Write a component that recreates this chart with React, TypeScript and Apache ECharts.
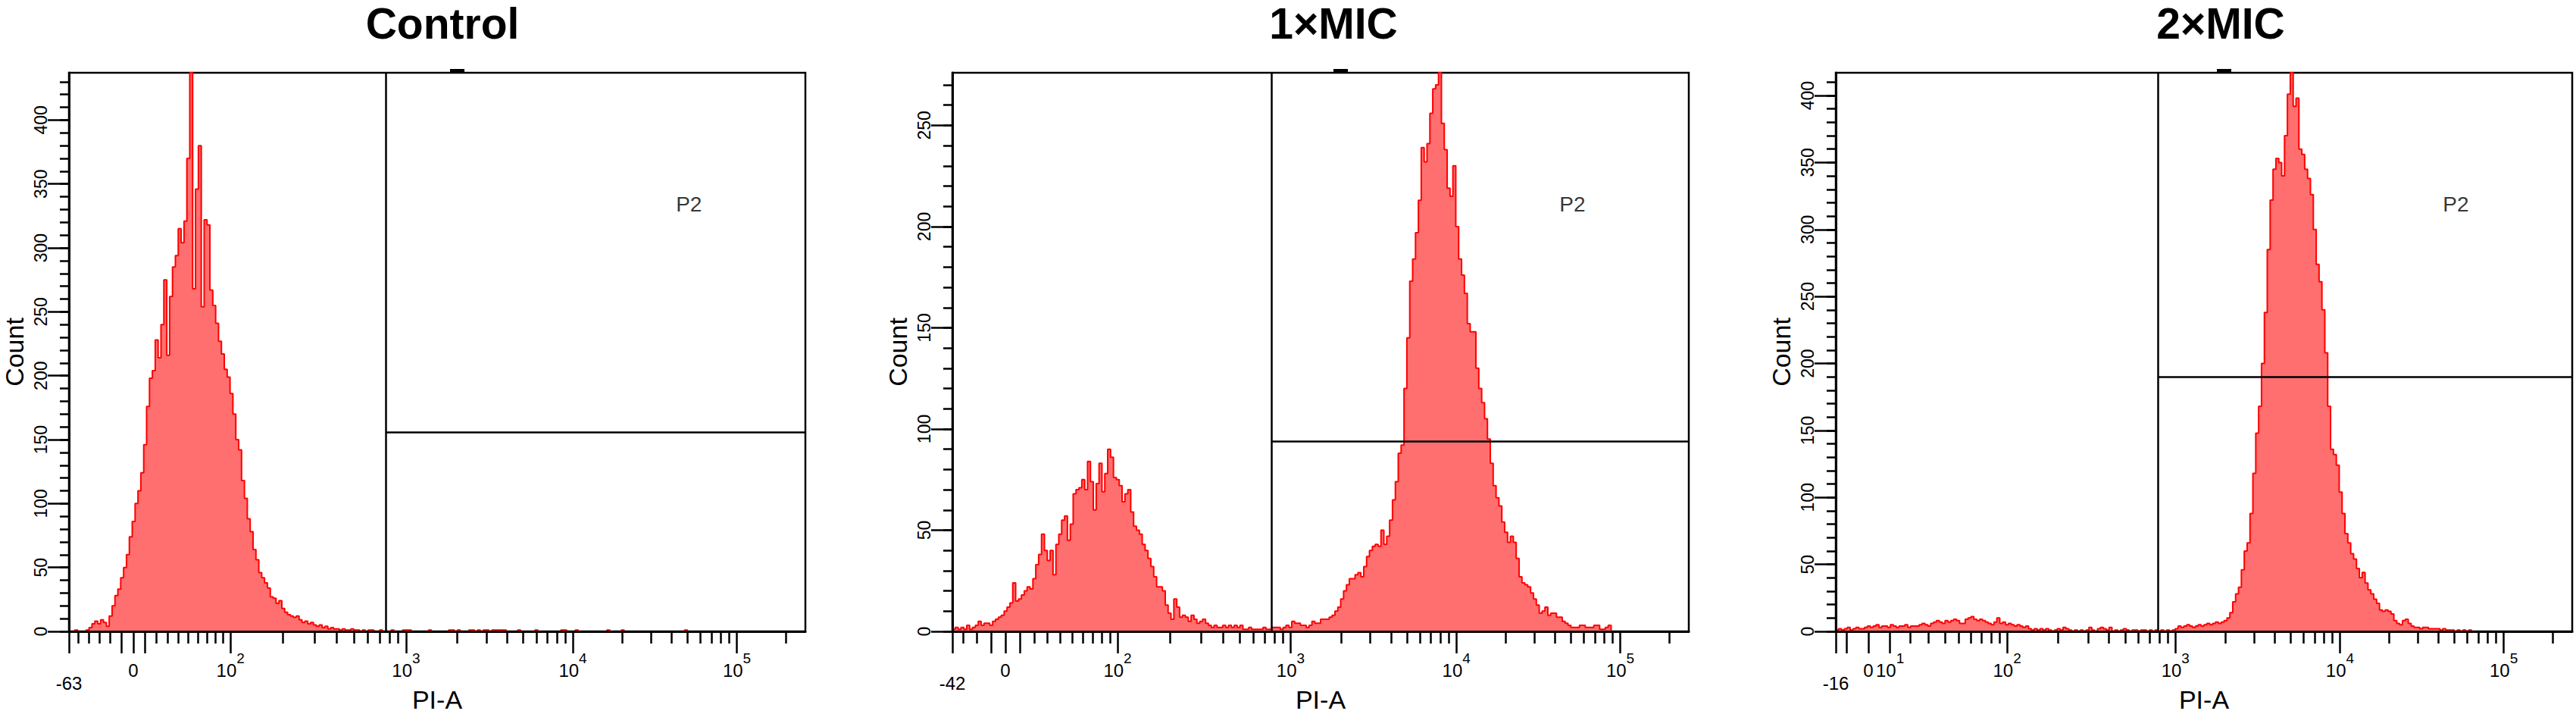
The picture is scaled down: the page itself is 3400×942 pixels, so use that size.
import React, { useEffect, useRef } from "react";
import * as echarts from "echarts";

const FONT = "'Liberation Sans', Arial, Helvetica, sans-serif";

// ---- instrument / axis scale (biexponential "logicle" display) ----
const T_MAX = 262144;
const M_DECADES = 4.5;
const CHANNELS = 256;

// ---- panels ----
const panelTitles = ["Control", "1×MIC", "2×MIC"];
const linearWidthDecades = [0.3935, 0.324, 0.199];
const edgeLabels = ["-63", "-42", "-16"];
const yMaxCounts = [437, 276, 417];
const yMajorTicks = [
  [0, 50, 100, 150, 200, 250, 300, 350, 400],
  [0, 50, 100, 150, 200, 250],
  [0, 50, 100, 150, 200, 250, 300, 350, 400],
];
const xLabelValues = [
  [0, 100, 1000, 10000, 100000],
  [0, 100, 1000, 10000, 100000],
  [0, 10, 100, 1000, 10000, 100000],
];
const xLongTickValues = [-10, 0, 10, 100, 1000, 10000, 100000];
const xShortTickValues = [
  -90, -80, -70, -60, -50, -40, -30, -20,
  20, 30, 40, 50, 60, 70, 80, 90,
  200, 300, 400, 500, 600, 700, 800, 900,
  2000, 3000, 4000, 5000, 6000, 7000, 8000, 9000,
  20000, 30000, 40000, 50000, 60000, 70000, 80000, 90000,
  200000,
];

// P2 gate (interval gate) per panel
const gateStartValue = [760, 770, 782];
const gateLineCount = [156, 94, 190];
const gateLabel = "P2";
const gateLabelValue = 51000;
const gateLabelCount = [334, 211, 319];

// ---- histogram counts per channel (256 channels) ----
const controlCounts = [
  0, 0, 1, 0, 0, 0, 1, 3, 6, 8,
  6, 9, 7, 4, 12, 20, 28, 33, 42, 50,
  60, 74, 86, 100, 110, 124, 146, 176, 198, 204,
  228, 214, 240, 275, 216, 262, 285, 294, 315, 304,
  321, 370, 437, 268, 346, 380, 254, 322, 318, 267,
  255, 241, 227, 217, 205, 199, 186, 170, 150, 142,
  118, 104, 88, 78, 64, 56, 46, 42, 38, 34,
  27, 26, 22, 24, 18, 15, 13, 12, 11, 12,
  9, 7, 8, 6, 7, 5, 4, 5, 3, 4,
  2, 3, 2, 2, 1, 2, 1, 1, 2, 1,
  1, 0, 1, 0, 1, 1, 0, 0, 1, 0,
  0, 0, 1, 0, 0, 0, 1, 1, 1, 0,
  0, 0, 0, 0, 0, 1, 0, 0, 0, 0,
  0, 0, 1, 1, 0, 1, 0, 0, 0, 1,
  1, 0, 1, 0, 1, 1, 0, 1, 1, 1,
  1, 1, 0, 0, 0, 0, 1, 0, 0, 0,
  0, 0, 1, 0, 0, 0, 0, 0, 0, 0,
  0, 1, 1, 0, 0, 0, 1, 0, 0, 0,
  0, 0, 0, 0, 0, 0, 0, 1, 0, 0,
  0, 0, 1, 0, 0, 0, 0, 0, 0, 0,
  0, 0, 0, 0, 0, 0, 0, 0, 0, 0,
  0, 0, 0, 0, 1, 0, 0, 0, 0, 0,
  0, 0, 0, 0, 0, 0, 0, 0, 0, 0,
  0, 0, 0, 0, 0, 0, 0, 0, 0, 0,
  0, 0, 0, 0, 0, 0, 0, 0, 0, 0,
  0, 0, 0, 0, 0, 0,
];

const mic1Counts = [
  1, 2, 1, 2, 1, 3, 1, 2, 3, 5,
  3, 4, 4, 3, 5, 6, 7, 8, 10, 12,
  14, 24, 15, 16, 18, 20, 22, 21, 26, 33,
  38, 48, 40, 35, 40, 28, 43, 48, 55, 57,
  45, 53, 68, 70, 71, 75, 70, 84, 74, 60,
  73, 83, 69, 78, 90, 86, 76, 75, 72, 64,
  68, 70, 59, 52, 50, 48, 43, 40, 36, 32,
  27, 22, 22, 20, 13, 9, 6, 16, 12, 7,
  8, 7, 5, 8, 6, 4, 5, 6, 4, 3,
  2, 3, 2, 2, 3, 2, 3, 2, 3, 2,
  3, 1, 1, 2, 1, 1, 1, 1, 2, 1,
  1, 2, 2, 2, 1, 2, 3, 2, 5, 4,
  4, 3, 3, 2, 3, 5, 4, 4, 6, 6,
  6, 7, 8, 10, 12, 16, 20, 23, 26, 26,
  28, 29, 27, 32, 37, 40, 42, 43, 42, 50,
  43, 47, 55, 65, 74, 88, 92, 120, 145, 173,
  184, 197, 213, 239, 232, 241, 256, 268, 270, 276,
  251, 238, 219, 215, 230, 200, 184, 176, 167, 152,
  148, 148, 130, 120, 113, 105, 95, 83, 72, 66,
  62, 54, 49, 44, 47, 44, 36, 27, 24, 23,
  22, 19, 16, 13, 9, 10, 12, 8, 9, 9,
  7, 7, 5, 4, 3, 2, 2, 2, 3, 3,
  2, 2, 2, 3, 3, 1, 1, 2, 3, 0,
  0, 0, 0, 0, 0, 0, 0, 0, 0, 0,
  0, 0, 0, 0, 0, 0, 0, 0, 0, 0,
  0, 0, 0, 0, 0, 0,
];

const mic2Counts = [
  1, 2, 1, 2, 3, 1, 2, 3, 2, 2,
  3, 4, 3, 4, 5, 3, 4, 4, 3, 5,
  4, 3, 4, 4, 5, 3, 4, 4, 4, 5,
  6, 5, 4, 6, 7, 8, 7, 6, 8, 7,
  8, 9, 8, 6, 6, 9, 10, 11, 9, 8,
  9, 8, 7, 6, 5, 7, 10, 6, 7, 5,
  6, 5, 4, 5, 4, 3, 4, 2, 1, 2,
  1, 2, 1, 2, 1, 0, 1, 2, 1, 3,
  2, 1, 0, 1, 0, 1, 0, 1, 3, 1,
  0, 2, 3, 2, 1, 3, 0, 1, 0, 1,
  2, 1, 0, 1, 1, 0, 1, 1, 0, 1,
  0, 1, 0, 1, 0, 1, 0, 1, 2, 4,
  3, 4, 5, 4, 3, 4, 5, 4, 5, 6,
  5, 6, 7, 6, 7, 8, 10, 14, 22, 28,
  33, 46, 60, 66, 88, 118, 148, 168, 200, 238,
  285, 322, 345, 353, 350, 340, 370, 401, 417, 392,
  398, 360, 356, 345, 338, 326, 300, 274, 261, 240,
  208, 168, 136, 132, 124, 104, 88, 73, 66, 58,
  54, 47, 40, 44, 36, 31, 28, 24, 21, 16,
  15, 16, 15, 13, 8, 6, 5, 8, 9, 6,
  4, 3, 3, 2, 3, 3, 2, 2, 2, 2,
  1, 2, 1, 1, 1, 0, 1, 0, 1, 0,
  1, 0, 0, 0, 0, 0, 0, 0, 0, 0,
  0, 0, 0, 0, 0, 0, 0, 0, 0, 0,
  0, 0, 0, 0, 0, 0, 0, 0, 0, 0,
  0, 0, 0, 0, 0, 0,
];

const panelCounts = [controlCounts, mic1Counts, mic2Counts];

// ---- layout ----
const GRID_LEFT = [91, 1257, 2423];
const GRID_TOP = 96;
const GRID_W = 972;
const GRID_H = 737;
const TITLE_X = [584, 1760, 2931];

// logicle (biexponential) transform: data value -> channel
function makeLogicle(W: number) {
  const m = M_DECADES * Math.LN10;
  const w = W * Math.LN10;
  let lo = 1.0000001;
  let hi = 50;
  for (let i = 0; i < 200; i++) {
    const mid = (lo + hi) / 2;
    const f = (2 * mid * Math.log(mid)) / (mid + 1);
    if (f < w) lo = mid;
    else hi = mid;
  }
  const p = (lo + hi) / 2;
  const a = T_MAX * Math.exp(-(m - w));
  const S = (u: number) => a * (Math.exp(u) - p * p * Math.exp(-u / p) + p * p - 1);
  return (v: number) => {
    const t = Math.abs(v);
    let l = 0;
    let h = m + 2;
    for (let i = 0; i < 200; i++) {
      const mid = (l + h) / 2;
      if (S(mid) < t) l = mid;
      else h = mid;
    }
    const u = (v < 0 ? -1 : 1) * ((l + h) / 2);
    return ((w + u) / m) * CHANNELS;
  };
}

function buildOption() {
  const grids: any[] = [];
  const xAxes: any[] = [];
  const yAxes: any[] = [];
  const series: any[] = [];
  const graphics: any[] = [];

  const axisColor = "#000";

  for (let i = 0; i < 3; i++) {
    const toCh = makeLogicle(linearWidthDecades[i]);
    const inRange = (c: number) => c > 0.8 && c <= CHANNELS;
    const longTicks = [0, ...xLongTickValues.map(toCh).filter(inRange)];
    const shortTicks = xShortTickValues.map(toCh).filter(inRange);
    const labelVals = xLabelValues[i];
    const labelCh = labelVals.map(toCh);

    grids.push({
      left: GRID_LEFT[i],
      top: GRID_TOP,
      width: GRID_W,
      height: GRID_H,
      show: true,
      borderColor: "#000",
      borderWidth: 2.5,
      backgroundColor: "transparent",
      containLabel: false,
      outerBoundsMode: "none",
    });

    // x axis: line + short ticks + edge label
    xAxes.push({
      type: "value",
      gridIndex: i,
      min: 0,
      max: CHANNELS,
      position: "bottom",
      z: 5,
      axisLine: { show: true, onZero: false, lineStyle: { color: axisColor, width: 3 } },
      axisTick: {
        show: true,
        customValues: shortTicks,
        length: 16,
        lineStyle: { color: axisColor, width: 2.5 },
      },
      axisLabel: {
        show: true,
        customValues: [0],
        formatter: () => edgeLabels[i],
        margin: 56,
        fontSize: 24,
        lineHeight: 24,
        color: "#000",
        fontFamily: FONT,
      },
      splitLine: { show: false },
    });
    // x axis: long ticks + decade labels + name
    xAxes.push({
      type: "value",
      gridIndex: i,
      min: 0,
      max: CHANNELS,
      position: "bottom",
      z: 5,
      axisLine: { show: false },
      axisTick: {
        show: true,
        customValues: longTicks,
        length: 29,
        lineStyle: { color: axisColor, width: 2.5 },
      },
      axisLabel: {
        show: true,
        customValues: labelCh,
        margin: 26,
        color: "#000",
        fontFamily: FONT,
        formatter: (val: number) => {
          let k = 0;
          let best = Infinity;
          labelCh.forEach((c, j) => {
            const d = Math.abs(c - val);
            if (d < best) {
              best = d;
              k = j;
            }
          });
          const v = labelVals[k];
          if (v === 0) return "{base|0}{pad| }";
          return "{base|10}{sup|" + Math.round(Math.log10(v)) + "}";
        },
        rich: {
          base: { fontSize: 24, fontFamily: FONT, color: "#000", verticalAlign: "bottom" },
          sup: {
            fontSize: 19,
            fontFamily: FONT,
            color: "#000",
            verticalAlign: "bottom",
            padding: [0, 0, 18, 0],
          },
          pad: { fontSize: 1, verticalAlign: "bottom", padding: [0, 0, 36, 0] },
        },
      },
      splitLine: { show: false },
      name: "PI-A",
      nameLocation: "middle",
      nameGap: 75,
      nameTextStyle: { fontSize: 34, lineHeight: 30, color: "#000", fontFamily: FONT },
    });

    const yMax = yMaxCounts[i];
    const minorY: number[] = [];
    for (let v = 0; v < yMax; v += 10) minorY.push(v);

    yAxes.push({
      type: "value",
      gridIndex: i,
      min: 0,
      max: yMax,
      position: "left",
      z: 5,
      axisLine: { show: true, onZero: false, lineStyle: { color: axisColor, width: 3 } },
      axisTick: {
        show: true,
        customValues: minorY,
        length: 12,
        lineStyle: { color: axisColor, width: 2.5 },
      },
      axisLabel: { show: false },
      splitLine: { show: false },
    });
    yAxes.push({
      type: "value",
      gridIndex: i,
      min: 0,
      max: yMax,
      position: "left",
      z: 5,
      axisLine: { show: false },
      axisTick: {
        show: true,
        customValues: yMajorTicks[i],
        length: 28,
        lineStyle: { color: axisColor, width: 2.5 },
      },
      axisLabel: {
        show: true,
        customValues: yMajorTicks[i],
        rotate: 90,
        margin: 26,
        fontSize: 23,
        color: "#000",
        fontFamily: FONT,
      },
      splitLine: { show: false },
      name: "Count",
      nameLocation: "middle",
      nameRotate: 90,
      nameGap: 57,
      nameTextStyle: { fontSize: 34, lineHeight: 30, color: "#000", fontFamily: FONT },
    });

    const counts = panelCounts[i];
    const data: number[][] = counts.map((c, ch) => [ch, c]);
    data.push([CHANNELS, counts[counts.length - 1]]);
    const gx = toCh(gateStartValue[i]);

    series.push({
      type: "line",
      xAxisIndex: 2 * i,
      yAxisIndex: 2 * i,
      data,
      step: "end",
      symbol: "none",
      showSymbol: false,
      z: 2,
      lineStyle: { color: "#ff0000", width: 2 },
      areaStyle: { color: "#ff6f6f", opacity: 1 },
      markLine: {
        silent: true,
        symbol: ["none", "none"],
        label: { show: false },
        lineStyle: { color: "#000", width: 2.5, type: "solid" },
        data: [
          [{ coord: [gx, 0] }, { coord: [gx, yMax] }],
          [{ coord: [gx, gateLineCount[i]] }, { coord: [CHANNELS, gateLineCount[i]] }],
        ],
      },
    });

    series.push({
      type: "scatter",
      xAxisIndex: 2 * i,
      yAxisIndex: 2 * i,
      data: [[toCh(gateLabelValue), gateLabelCount[i]]],
      symbolSize: 1,
      itemStyle: { color: "transparent" },
      silent: true,
      label: {
        show: true,
        position: "inside",
        formatter: gateLabel,
        fontSize: 28,
        color: "#000",
        fontFamily: FONT,
      },
      z: 4,
    });

    graphics.push({
      type: "text",
      x: TITLE_X[i],
      y: 31,
      style: {
        text: panelTitles[i],
        fontSize: 57,
        lineHeight: 50,
        fontWeight: "bold",
        fontFamily: FONT,
        fill: "#000",
        align: "center",
        verticalAlign: "middle",
      },
    });
    graphics.push({
      type: "rect",
      shape: { x: GRID_LEFT[i] + 503, y: GRID_TOP - 5, width: 19, height: 5 },
      style: { fill: "#000" },
    });
  }

  return {
    animation: false,
    backgroundColor: "#fff",
    textStyle: { fontFamily: FONT },
    grid: grids,
    xAxis: xAxes,
    yAxis: yAxes,
    series,
    graphic: graphics,
  };
}

export default function App() {
  const ref = useRef<HTMLDivElement>(null);
  useEffect(() => {
    if (!ref.current) return;
    const chart = echarts.init(ref.current, undefined, { renderer: "svg" });
    chart.setOption(buildOption() as any);
    return () => chart.dispose();
  }, []);
  return (
    <div
      ref={ref}
      style={{ position: "fixed", left: 0, top: 0, width: 3400, height: 942, background: "#fff" }}
    />
  );
}
